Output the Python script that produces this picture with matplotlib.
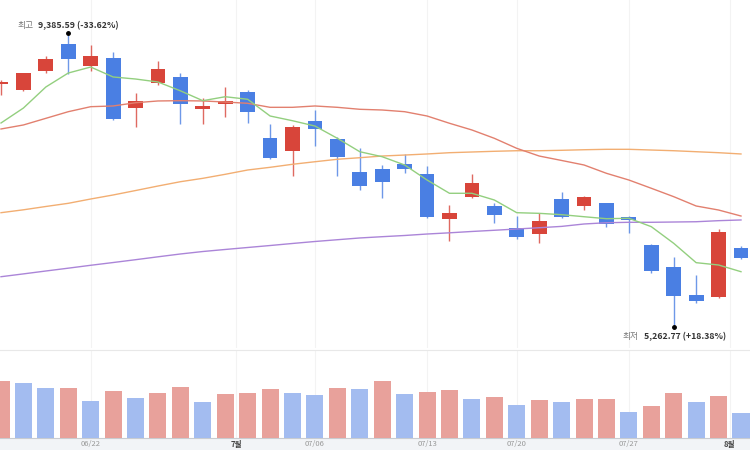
"""Candlestick chart with moving averages and volume panel -> out.png"""
import numpy as np
import matplotlib
matplotlib.use("Agg")
import matplotlib.pyplot as plt
from matplotlib.patches import Rectangle

plt.rcParams["font.family"] = ["Noto Sans CJK KR", "DejaVu Sans"]

# daily OHLC (34 sessions, mid June -> early August)
OPEN = [8687, 8606, 8876, 9258, 8946, 9056, 8347, 8701, 8795, 8333,
        8408, 8574, 7922, 7742, 8171, 7912, 7449, 7483, 7554, 7412,
        6774, 7086, 6963, 6647, 6566, 7058, 6967, 7001, 6811, 6410,
        6103, 5702, 5678, 6372]
HIGH = [8748, 8854, 9088, 9385.59, 9244, 9149, 8568, 9017, 8843, 8489,
        8653, 8606, 8125, 8111, 8323, 7945, 7780, 7544, 7695, 7530,
        6977, 7416, 7010, 6821, 6859, 7157, 7109, 7010, 6825, 6420,
        6236, 5985, 6633, 6396]
LOW = [8536, 8592, 8852, 8829, 8880, 8181, 8078, 8677, 8120, 8120,
       8220, 8143, 7629, 7388, 7813, 7392, 7190, 7072, 7426, 6797,
       6467, 7072, 6726, 6491, 6443, 6790, 6906, 6670, 6576, 6018,
       5262.77, 5593, 5664, 6215]
CLOSE = [8710, 8843, 9041, 9041, 9088, 8196, 8455, 8904, 8408, 8380,
         8455, 8290, 7647, 8078, 8050, 7653, 7250, 7299, 7483, 6811,
         6859, 7293, 6835, 6528, 6755, 6803, 7095, 6704, 6764, 6046,
         5692, 5621, 6599, 6230]

# moving averages as drawn
MA5 = [8139, 8351, 8649, 8847, 8932, 8791, 8762, 8720, 8595, 8455,
       8511, 8475, 8238, 8171, 8096, 7922, 7732, 7661, 7544, 7331,
       7143, 7143, 7048, 6868, 6859, 6840, 6811, 6783, 6789, 6670,
       6434, 6160, 6127, 6032]
MA20 = [8054, 8111, 8205, 8299, 8370, 8380, 8426, 8451, 8455, 8451,
        8436, 8418, 8361, 8361, 8380, 8361, 8333, 8323, 8299, 8238,
        8135, 8040, 7922, 7780, 7671, 7608, 7544, 7426, 7331, 7214,
        7095, 6963, 6906, 6821]
MA60 = [6868, 6909, 6956, 7001, 7062, 7119, 7182, 7246, 7307, 7355,
        7412, 7473, 7511, 7554, 7590, 7625, 7647, 7671, 7685, 7700,
        7718, 7728, 7738, 7746, 7746, 7752, 7760, 7766, 7766, 7756,
        7746, 7732, 7718, 7700]
MA120 = [5961, 6001, 6042, 6082, 6123, 6162, 6202, 6243, 6283, 6318,
         6347, 6375, 6403, 6432, 6460, 6485, 6510, 6528, 6545, 6566,
         6583, 6602, 6619, 6637, 6655, 6674, 6708, 6726, 6732, 6732,
         6736, 6740, 6755, 6765]

VOLUME = [57, 55, 50, 50.5, 37, 47, 40, 45, 51, 36,
          44, 45, 49, 45, 43, 50, 49, 57, 44, 46,
          48, 39, 41, 33, 38, 36, 39, 39.3, 26, 32,
          45, 36, 42, 25]

TICK_POS = [4, 10.5, 14, 19, 23, 28, 32.5]
TICK_LABELS = ["06/22", "7월", "07/06", "07/13", "07/20", "07/27", "8월"]
MONTH_LABELS = {"7월", "8월"}

HIGH_TEXT = ("최고", "9,385.59 (-33.62%)")
LOW_TEXT = ("최저", "5,262.77 (+18.38%)")

UP, DOWN = "#d8453a", "#4a7fe3"
VOL_UP, VOL_DOWN = "#e8a19b", "#a3bcf0"
MA_COLORS = {"ma5": "#93cf7f", "ma20": "#e2806f", "ma60": "#f2ae72", "ma120": "#ab85d8"}

W, H = 750, 450


def draw_price(ax):
    o, h, l, c = map(np.array, (OPEN, HIGH, LOW, CLOSE))
    x = np.arange(len(o))
    cols = [UP if ci >= oi else DOWN for oi, ci in zip(o, c)]
    ax.vlines(x, l, h, colors=cols, lw=1, alpha=0.8, zorder=3)
    body = np.maximum(np.abs(c - o), 28)
    ax.bar(x, body, bottom=np.minimum(o, c), width=0.66, color=cols, zorder=4)
    for key, vals in (("ma120", MA120), ("ma60", MA60), ("ma20", MA20), ("ma5", MA5)):
        ax.plot(x, vals, color=MA_COLORS[key], lw=1, zorder=5)

    ih, il = int(np.argmax(h)), int(np.argmin(l))
    for idx, yv, (lab, val), dy, va in ((ih, h[ih], HIGH_TEXT, 5, "bottom"),
                                       (il, l[il], LOW_TEXT, -6, "top")):
        ax.plot([idx], [yv + (30 if dy > 0 else -20)], "o", color="black", ms=2.5, zorder=6)
        ax.annotate(lab, (idx, yv), xytext=(-35, dy), textcoords="offset pixels",
                    ha="right", va=va, fontsize=6.3, color="#777777")
        ax.annotate(val, (idx, yv), xytext=(-30, dy), textcoords="offset pixels",
                    ha="left", va=va, fontsize=6.3, color="#333333", fontweight="bold")


def draw_volume(ax):
    v = np.array(VOLUME)
    x = np.arange(len(v))
    cols = [VOL_UP] + [VOL_UP if v[i] >= v[i - 1] else VOL_DOWN for i in range(1, len(v))]
    ax.bar(x, v, width=0.76, color=cols, zorder=3)
    ax.set_xticks(TICK_POS)
    ax.set_xticklabels(TICK_LABELS)
    for t in ax.get_xticklabels():
        if t.get_text() in MONTH_LABELS:
            t.set_color("#444444"); t.set_fontweight("bold")
        else:
            t.set_color("#999999")
    ax.tick_params(axis="x", length=0, pad=1.5, labelsize=5.5)
    ax.tick_params(axis="y", left=False, labelleft=False)


def main():
    fig = plt.figure(figsize=(W / 100, H / 100), dpi=100)
    # light strip behind the date labels
    strip = fig.add_axes([0, 0, 1, 12 / H], zorder=-5)
    strip.set_facecolor("#f2f4f7")
    strip.set_xticks([]); strip.set_yticks([])
    for s in strip.spines.values():
        s.set_visible(False)

    px_per = 22.42
    xlim = (-1 / px_per, len(OPEN) - 1 + 9 / px_per)

    ax = fig.add_axes([0, 1 - 348 / H, 1, 348 / H])
    ax.set_xlim(*xlim)
    ax.set_ylim(9881.5 - 348 * 14.168, 9881.5)
    ax.set_xticks([]); ax.set_yticks([])
    for s in ax.spines.values():
        s.set_visible(False)
    draw_price(ax)

    axv = fig.add_axes([0, 12 / H, 1, 88 / H])
    axv.set_xlim(*xlim)
    axv.set_ylim(0, 88)
    for s in ("left", "right"):
        axv.spines[s].set_visible(False)
    axv.spines["top"].set_color("#e8e8e8")
    axv.spines["bottom"].set_color("#c9ccd1")
    draw_volume(axv)

    for a in (ax, axv):
        for p in TICK_POS:
            a.axvline(p, color="#f3f3f3", lw=0.8, zorder=0)
        a.set_facecolor("none")

    fig.savefig("out.png", dpi=100)
    plt.close(fig)


if __name__ == "__main__":
    main()
